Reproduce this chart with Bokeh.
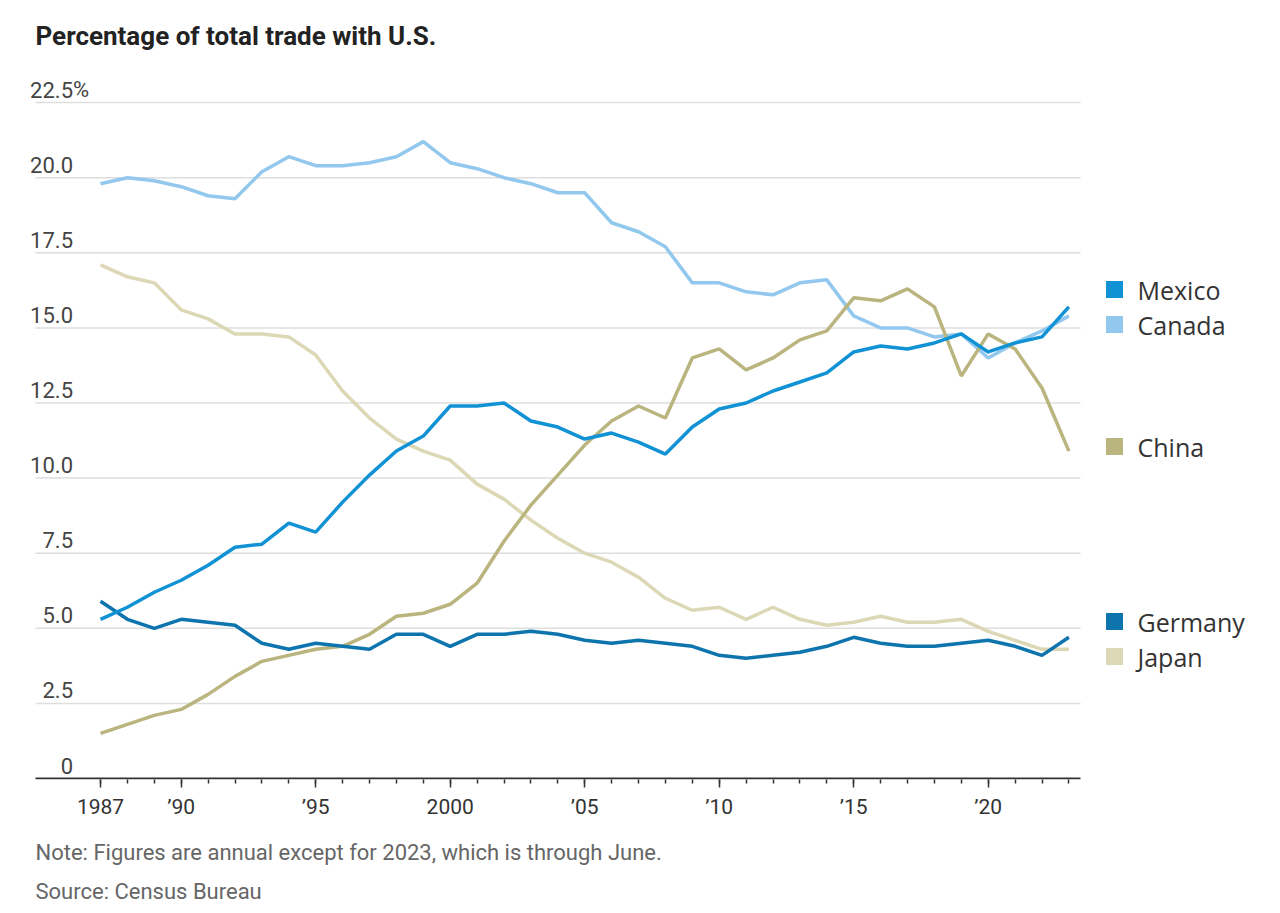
from bokeh.plotting import figure
from bokeh.models import Range1d, FixedTicker, Title
from bokeh.core.properties import value
from bokeh.embed import file_html
from bokeh.resources import INLINE

# ---------------- data ----------------
years = list(range(1987, 2024))

mexico = [5.3, 5.7, 6.2, 6.6, 7.1, 7.7, 7.8, 8.5, 8.2, 9.2,
          10.1, 10.9, 11.4, 12.4, 12.4, 12.5, 11.9, 11.7, 11.3, 11.5,
          11.2, 10.8, 11.7, 12.3, 12.5, 12.9, 13.2, 13.5, 14.2, 14.4,
          14.3, 14.5, 14.8, 14.2, 14.5, 14.7, 15.7]
canada = [19.8, 20.0, 19.9, 19.7, 19.4, 19.3, 20.2, 20.7, 20.4, 20.4,
          20.5, 20.7, 21.2, 20.5, 20.3, 20.0, 19.8, 19.5, 19.5, 18.5,
          18.2, 17.7, 16.5, 16.5, 16.2, 16.1, 16.5, 16.6, 15.4, 15.0,
          15.0, 14.7, 14.8, 14.0, 14.5, 14.9, 15.4]
china = [1.5, 1.8, 2.1, 2.3, 2.8, 3.4, 3.9, 4.1, 4.3, 4.4,
         4.8, 5.4, 5.5, 5.8, 6.5, 7.9, 9.1, 10.1, 11.1, 11.9,
         12.4, 12.0, 14.0, 14.3, 13.6, 14.0, 14.6, 14.9, 16.0, 15.9,
         16.3, 15.7, 13.4, 14.8, 14.3, 13.0, 10.9]
germany = [5.9, 5.3, 5.0, 5.3, 5.2, 5.1, 4.5, 4.3, 4.5, 4.4,
           4.3, 4.8, 4.8, 4.4, 4.8, 4.8, 4.9, 4.8, 4.6, 4.5,
           4.6, 4.5, 4.4, 4.1, 4.0, 4.1, 4.2, 4.4, 4.7, 4.5,
           4.4, 4.4, 4.5, 4.6, 4.4, 4.1, 4.7]
japan = [17.1, 16.7, 16.5, 15.6, 15.3, 14.8, 14.8, 14.7, 14.1, 12.9,
         12.0, 11.3, 10.9, 10.6, 9.8, 9.3, 8.6, 8.0, 7.5, 7.2,
         6.7, 6.0, 5.6, 5.7, 5.3, 5.7, 5.3, 5.1, 5.2, 5.4,
         5.2, 5.2, 5.3, 4.9, 4.6, 4.3, 4.3]

series_names = ["Mexico", "Canada", "China", "Germany", "Japan"]

y_ticks = [0, 2.5, 5.0, 7.5, 10.0, 12.5, 15.0, 17.5, 20.0, 22.5]
y_tick_labels = ["0", "2.5", "5.0", "7.5", "10.0", "12.5", "15.0", "17.5", "20.0", "22.5"]

x_major_ticks = [1987, 1990, 1995, 2000, 2005, 2010, 2015, 2020]
x_tick_labels = ["1987", "\u201990", "\u201995", "2000", "\u201905", "\u201910", "\u201915", "\u201920"]

title_text = "Percentage of total trade with U.S."
note_text = "Note: Figures are annual except for 2023, which is through June."
source_text = "Source: Census Bureau"

# ---------------- layout / styles ----------------
W, H = 1272, 905
PX_YEAR = 26.9
PX_PCT = 30.04


def xv(page_x):
    return 1987 + (page_x - 100) / PX_YEAR


def yv(page_y):
    return (778 - page_y) / PX_PCT


colors = {
    "Mexico": "#1192d5",
    "Canada": "#93c8ee",
    "China": "#bab47f",
    "Germany": "#0d74ad",
    "Japan": "#dcd7b4",
}
legend_page_y = {"Mexico": 289, "Canada": 324, "China": 446, "Germany": 621, "Japan": 656}

FRAME_BOTTOM = 779
x_start = xv(0)
x_end = xv(W)
y_start = yv(FRAME_BOTTOM)
y_end = yv(0)

p = figure(width=W, height=H, output_backend="svg", toolbar_location=None,
           x_range=Range1d(x_start, x_end), y_range=Range1d(y_start, y_end),
           y_axis_location=None,
           min_border_left=0, min_border_right=0, min_border_top=0,
           min_border_bottom=H - FRAME_BOTTOM)
p.outline_line_color = None
p.grid.visible = False
p.background_fill_color = "white"
p.border_fill_color = "white"

# grid lines
grid_x0, grid_x1 = xv(35), xv(1080)
p.segment(x0=[grid_x0] * (len(y_ticks) - 1), x1=[grid_x1] * (len(y_ticks) - 1),
          y0=y_ticks[1:], y1=y_ticks[1:], line_color="#dedede", line_width=1.5)
p.segment(x0=[grid_x0], x1=[grid_x1], y0=[0], y1=[0], line_color="#333333", line_width=2)

# y labels
lab_x = xv(72.5)
p.text(x=[lab_x] * len(y_ticks), y=y_ticks, text=y_tick_labels,
       text_align="right", text_baseline="alphabetic", y_offset=-13,
       text_font=value("Roboto"), text_font_size="22px", text_color="#444444")
p.text(x=[lab_x], y=[y_ticks[-1]], text=["%"],
       text_align="left", text_baseline="alphabetic", y_offset=-13,
       text_font=value("Roboto"), text_font_size="22px", text_color="#444444")

# title
p.text(x=[xv(35)], y=[yv(35)], text=[title_text], text_align="left", text_baseline="middle",
       text_font=value("Roboto"), text_font_style="bold", text_font_size="26px",
       text_color="#222222")

# lines (drawing order: bottom to top)
data = {"Mexico": mexico, "Canada": canada, "China": china, "Germany": germany, "Japan": japan}
for name in ["Japan", "Canada", "China", "Germany", "Mexico"]:
    p.line(years, data[name], line_color=colors[name], line_width=3.5)

# legend
sq_x = xv(1114)
txt_x = xv(1137)
p.scatter(x=[sq_x] * len(series_names), y=[yv(legend_page_y[n]) for n in series_names],
          marker="square", size=17, line_color=None,
          fill_color=[colors[n] for n in series_names])
p.text(x=[txt_x] * len(series_names), y=[yv(legend_page_y[n]) for n in series_names],
       text=series_names, text_align="left", text_baseline="middle",
       text_font=value("Open Sans"), text_font_size="25px", text_color="#333333")

# x axis
ax = p.xaxis[0]
ax.ticker = FixedTicker(ticks=x_major_ticks, minor_ticks=years)
ax.major_label_overrides = {t: l for t, l in zip(x_major_ticks, x_tick_labels)}
ax.axis_line_color = None
ax.major_tick_line_color = "#333333"
ax.major_tick_line_width = 1.5
ax.major_tick_out = 8
ax.major_tick_in = 0
ax.minor_tick_line_color = "#333333"
ax.minor_tick_line_width = 1.5
ax.minor_tick_out = 4
ax.minor_tick_in = 0
ax.major_label_standoff = 7
ax.major_label_text_font = "Roboto"
ax.major_label_text_font_size = "21px"
ax.major_label_text_color = "#333333"

# footer
for txt, so in [(note_text, 33), (source_text, -9)]:
    p.add_layout(Title(text=txt, align="left", offset=35, standoff=so,
                       text_font="Roboto", text_font_style="normal",
                       text_font_size="22px", text_color="#666666"), "below")

open("out.html", "w").write(file_html(p, INLINE))
